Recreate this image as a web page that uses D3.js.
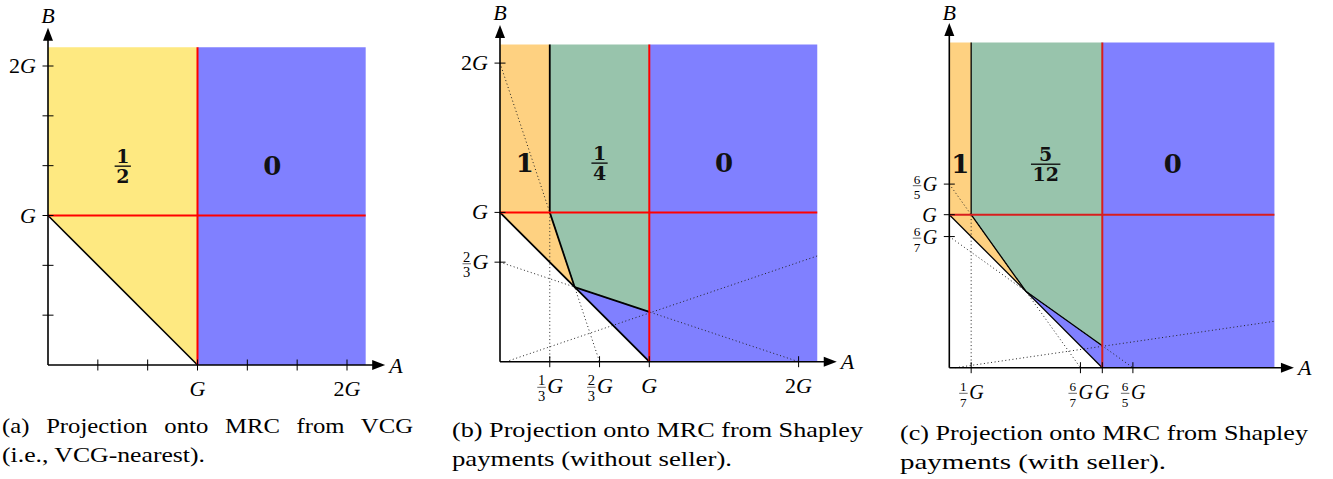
<!DOCTYPE html>
<html>
<head>
<meta charset="utf-8">
<script src="https://cdn.jsdelivr.net/npm/d3@7"></script>
<style>
  body { margin: 0; background: #fff; }
  svg { display: block; }
</style>
</head>
<body>
<script>
  // all coordinates below are in units of G
  const TOP = 2.125;

  // (a) projection from VCG
  const aYellow = [[0, 1], [0, TOP], [1, TOP], [1, 0]];
  const aBlue = [[1, 0], [1, TOP], [TOP, TOP], [TOP, 0]];
  const aBlack = [[[0, 1], [1, 0]]];
  const aRed = [[[0, 1], [TOP, 1]], [[1, 0], [1, TOP]]];
  const aDotted = [];
  const aXTicks = [1/3, 2/3, 1, 4/3, 5/3, 2];
  const aXTickLabels = ["", "", "G", "", "", "2G"];
  const aYTicks = [1/3, 2/3, 1, 4/3, 5/3, 2];
  const aYTickLabels = ["", "", "G", "", "", "2G"];
  const aLabelPos = [[0.5, 1.33], [1.5, 1.33]];
  const aLabelText = ["1/2", "0"];
  const aCaption = ["(a) Projection onto MRC from VCG", "(i.e., VCG-nearest)."];

  // (b) Shapley without seller
  const bOrange = [[0, 1], [0, TOP], [1/3, TOP], [1/3, 1], [0.5, 0.5]];
  const bGreen = [[1/3, 1], [1/3, TOP], [1, TOP], [1, 1/3], [0.5, 0.5]];
  const bBlue = [[0.5, 0.5], [1, 1/3], [1, TOP], [TOP, TOP], [TOP, 0], [1, 0]];
  const bBlack = [[[1/3, TOP], [1/3, 1], [0.5, 0.5], [1, 1/3]], [[0, 1], [1, 0]]];
  const bRed = [[[0, 1], [TOP, 1]], [[1, 0], [1, TOP]]];
  const bDotted = [[[0, 2], [2/3, 0]], [[0, 2/3], [2, 0]], [[0.04, 0], [TOP, TOP/3]], [[1/3, 0], [1/3, 1]]];
  const bXTicks = [1/3, 2/3, 1, 2];
  const bXTickLabels = ["1/3G", "2/3G", "G", "2G"];
  const bYTicks = [2/3, 1, 2];
  const bYTickLabels = ["2/3G", "G", "2G"];
  const bLabelPos = [[1/6, 1.33], [2/3, 1.33], [1.5, 1.33]];
  const bLabelText = ["1", "1/4", "0"];
  const bCaption = ["(b) Projection onto MRC from Shapley", "payments (without seller)."];

  // (c) Shapley with seller
  const cOrange = [[0, 1], [0, TOP], [1/7, TOP], [1/7, 1], [0.5, 0.5]];
  const cGreen = [[1/7, 1], [1/7, TOP], [1, TOP], [1, 1/7], [0.5, 0.5]];
  const cBlue = [[0.5, 0.5], [1, 1/7], [1, TOP], [TOP, TOP], [TOP, 0], [1, 0]];
  const cBlack = [[[1/7, TOP], [1/7, 1], [0.5, 0.5], [1, 1/7]], [[0, 1], [1, 0]]];
  const cRed = [[[0, 1], [TOP, 1]], [[1, 0], [1, TOP]]];
  const cDotted = [[[0, 6/5], [6/7, 0]], [[0, 6/7], [6/5, 0]], [[0.04, 0], [TOP, TOP/7]], [[1/7, 0], [1/7, 1]]];
  const cXTicks = [1/7, 6/7, 1, 6/5];
  const cXTickLabels = ["1/7G", "6/7G", "G", "6/5G"];
  const cYTicks = [6/7, 1, 6/5];
  const cYTickLabels = ["6/7G", "G", "6/5G"];
  const cLabelPos = [[1/14, 1.33], [0.63, 1.33], [1.46, 1.33]];
  const cLabelText = ["1", "5/12", "0"];
  const cCaption = ["(c) Projection onto MRC from Shapley", "payments (with seller)."];

  const YELLOW = "#fee981";
  const ORANGE = "#fed181";
  const GREEN = "#98c4ac";
  const BLUE = "#8080ff";

  const serif = "Liberation Serif";
  const boldSerif = "DejaVu Serif";

  const svg = d3.select('body').append('svg')
    .attr('width', 1333)
    .attr('height', 479)
    .attr('viewBox', [0, 0, 1333, 479]);

  // tick label like "2/3G" or "2G": small fraction, then upright digits and italic letter
  function mathLabel(parent, label, size) {
    const grp = parent.append('g').attr('font-family', serif);
    const m = label.match(/^(\d+)\/(\d+)(.*)$/);
    let x = 0;
    let rest = label;
    if (m) {
      const fs = size * 0.66;
      const w = 9.5;
      grp.append('text').attr('x', w / 2).attr('y', -7.4).attr('text-anchor', 'middle')
        .attr('font-size', fs).text(m[1]);
      grp.append('text').attr('x', w / 2).attr('y', 8).attr('text-anchor', 'middle')
        .attr('font-size', fs).text(m[2]);
      grp.append('line').attr('x1', 0.5).attr('x2', w - 0.5).attr('y1', -5.4).attr('y2', -5.4)
        .attr('stroke', '#000').attr('stroke-width', 0.6);
      x = w + 1;
      rest = m[3];
    }
    const parts = rest.match(/^(\d*)(.*)$/);
    const t = grp.append('text').attr('x', x).attr('y', 0).attr('font-size', size);
    if (parts[1]) t.append('tspan').text(parts[1]);
    t.append('tspan').attr('font-style', 'italic').text(parts[2]);
    return grp;
  }

  function regionLabel(parent, label, cx, cy) {
    const m = label.match(/^(\d+)\/(\d+)$/);
    const grp = parent.append('g').attr('font-family', boldSerif).attr('font-weight', 'bold')
      .attr('text-anchor', 'middle').attr('fill', '#111');
    if (m) {
      const num = grp.append('text').attr('x', cx).attr('y', cy - 3.5).attr('font-size', 19).text(m[1]);
      const den = grp.append('text').attr('x', cx).attr('y', cy + 16.5).attr('font-size', 19).text(m[2]);
      const w = Math.max(num.node().getComputedTextLength(), den.node().getComputedTextLength()) + 3;
      grp.append('line').attr('x1', cx - w / 2).attr('x2', cx + w / 2).attr('y1', cy).attr('y2', cy)
        .attr('stroke', '#111').attr('stroke-width', 1.4);
    } else {
      grp.append('text').attr('x', cx).attr('y', cy + 9).attr('font-size', 26).text(label);
    }
  }

  function drawPanel(p) {
    const g = svg.append('g');
    const x = d3.scaleLinear([0, TOP], [p.origin[0], p.origin[0] + TOP * p.unit]);
    const y = d3.scaleLinear([0, TOP], [p.origin[1], p.origin[1] - TOP * p.unit]);
    const line = d3.line().x(d => x(d[0])).y(d => y(d[1]));

    g.selectAll('path.region')
      .data(p.regions)
      .join('path')
        .attr('class', 'region')
        .attr('d', d => line(d.pts) + 'Z')
        .attr('fill', d => d.fill);

    g.selectAll('path.dotted')
      .data(p.dotted)
      .join('path')
        .attr('class', 'dotted')
        .attr('d', line)
        .attr('fill', 'none')
        .attr('stroke', '#222')
        .attr('stroke-width', 1)
        .attr('stroke-dasharray', '1 2.6');

    g.selectAll('path.black')
      .data(p.black)
      .join('path')
        .attr('class', 'black')
        .attr('d', line)
        .attr('fill', 'none')
        .attr('stroke', '#000')
        .attr('stroke-width', p.blackWidth)
        .attr('stroke-linejoin', 'round');

    g.selectAll('path.red')
      .data(p.red)
      .join('path')
        .attr('class', 'red')
        .attr('d', line)
        .attr('fill', 'none')
        .attr('stroke', p.redColor)
        .attr('stroke-width', 2);

    // axes with arrow heads
    const x0 = x(0), y0 = y(0);
    const xTip = x(TOP) + 19.5, yTip = y(TOP) - 19.5;
    g.append('line').attr('x1', x0).attr('y1', y0).attr('x2', xTip - 8).attr('y2', y0)
      .attr('stroke', '#000').attr('stroke-width', 1.6);
    g.append('line').attr('x1', x0).attr('y1', y0).attr('x2', x0).attr('y2', yTip + 8)
      .attr('stroke', '#000').attr('stroke-width', 1.6);
    g.append('path').attr('d', `M${xTip},${y0} L${xTip - 13},${y0 - 5} L${xTip - 13},${y0 + 5} Z`).attr('fill', '#000');
    g.append('path').attr('d', `M${x0},${yTip} L${x0 - 5},${yTip + 13} L${x0 + 5},${yTip + 13} Z`).attr('fill', '#000');

    g.append('text').attr('x', x0).attr('y', Math.max(yTip - 5, 20)).attr('text-anchor', 'middle')
      .attr('font-family', serif).attr('font-style', 'italic').attr('font-size', 22).text('B');
    g.append('text').attr('x', xTip + 4).attr('y', y0 + 7.5)
      .attr('font-family', serif).attr('font-style', 'italic').attr('font-size', 22).text('A');

    // ticks
    p.xTicks.forEach(function (t, i) {
      g.append('line').attr('x1', x(t)).attr('x2', x(t)).attr('y1', y0 - 5.5).attr('y2', y0 + 5.5)
        .attr('stroke', '#000').attr('stroke-width', 1);
      const lab = p.xTickLabels[i];
      if (lab) {
        const grp = mathLabel(g, lab, p.tickSize);
        const w = grp.node().getBBox().width;
        grp.attr('transform', `translate(${x(t) - w / 2},${y0 + 31})`);
      }
    });
    p.yTicks.forEach(function (t, i) {
      g.append('line').attr('x1', x0 - 5.5).attr('x2', x0 + 5.5).attr('y1', y(t)).attr('y2', y(t))
        .attr('stroke', '#000').attr('stroke-width', 1);
      const lab = p.yTickLabels[i];
      if (lab) {
        const grp = mathLabel(g, lab, p.tickSize);
        const w = grp.node().getBBox().width;
        grp.attr('transform', `translate(${x0 - 12 - w},${y(t) + 7})`);
      }
    });

    p.labelPos.forEach(function (pos, i) {
      regionLabel(g, p.labelText[i], x(pos[0]), y(pos[1]));
    });

    // caption lines stretched to the widths seen in the figure;
    // the first line of (a) is justified, so its word gaps are wider
    p.caption.forEach(function (txt, i) {
      g.append('text')
        .attr('x', p.captionX)
        .attr('y', p.captionY[i])
        .attr('font-family', serif)
        .attr('font-size', 21)
        .attr('word-spacing', p.captionGap[i])
        .attr('textLength', p.captionW[i])
        .attr('lengthAdjust', 'spacingAndGlyphs')
        .text(txt);
    });
  }

  drawPanel({
    origin: [48, 365], unit: 149.5, tickSize: 22,
    regions: [{ pts: aYellow, fill: YELLOW }, { pts: aBlue, fill: BLUE }],
    black: aBlack, red: aRed, dotted: aDotted, blackWidth: 1.6, redColor: '#f00',
    xTicks: aXTicks, xTickLabels: aXTickLabels, yTicks: aYTicks, yTickLabels: aYTickLabels,
    labelPos: aLabelPos, labelText: aLabelText,
    caption: aCaption, captionX: 2, captionY: [433, 462], captionW: [411, 203],
    captionGap: [9, 0]
  });

  drawPanel({
    origin: [500, 361.7], unit: 149.3, tickSize: 22,
    regions: [{ pts: bOrange, fill: ORANGE }, { pts: bGreen, fill: GREEN }, { pts: bBlue, fill: BLUE }],
    black: bBlack, red: bRed, dotted: bDotted, blackWidth: 1.8, redColor: '#f00',
    xTicks: bXTicks, xTickLabels: bXTickLabels, yTicks: bYTicks, yTickLabels: bYTickLabels,
    labelPos: bLabelPos, labelText: bLabelText,
    caption: bCaption, captionX: 452, captionY: [437, 466], captionW: [411, 280],
    captionGap: [0, 0]
  });

  drawPanel({
    origin: [949.3, 367.7], unit: 153, tickSize: 20,
    regions: [{ pts: cOrange, fill: ORANGE }, { pts: cGreen, fill: GREEN }, { pts: cBlue, fill: BLUE }],
    black: cBlack, red: cRed, dotted: cDotted, blackWidth: 1.3, redColor: '#d81e1e',
    xTicks: cXTicks, xTickLabels: cXTickLabels, yTicks: cYTicks, yTickLabels: cYTickLabels,
    labelPos: cLabelPos, labelText: cLabelText,
    caption: cCaption, captionX: 900, captionY: [440, 469], captionW: [408, 266],
    captionGap: [0, 0]
  });
</script>
</body>
</html>
